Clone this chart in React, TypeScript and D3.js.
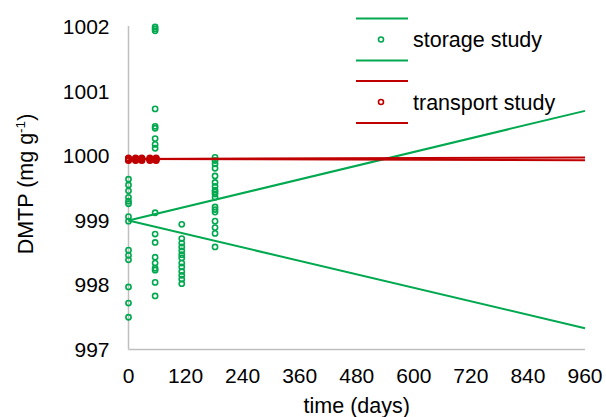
import React from "react";
import * as d3 from "d3";

const storageDays = [0, 56, 112, 182];
const storageDay0 = [999.64, 999.55, 999.46, 999.36, 999.3, 999.26, 999.06, 998.99, 998.54, 998.46, 998.39, 997.97, 997.72, 997.5];
const storageDay56 = [1002.0, 1001.97, 1001.94, 1000.73, 1000.46, 1000.43, 1000.27, 1000.18, 1000.12, 999.12, 998.79, 998.66, 998.43, 998.34, 998.26, 998.23, 998.04, 997.83];
const storageDay112 = [998.94, 998.72, 998.65, 998.59, 998.53, 998.47, 998.42, 998.34, 998.28, 998.21, 998.15, 998.09, 998.02];
const storageDay182 = [999.98, 999.93, 999.88, 999.81, 999.69, 999.59, 999.53, 999.47, 999.44, 999.41, 999.36, 999.21, 999.17, 999.13, 998.99, 998.89, 998.8, 998.59];
const storageValues = [storageDay0, storageDay56, storageDay112, storageDay182];

const transportDays = [0, 15, 28, 45, 58];
const transportValues = [999.93, 999.94, 999.95, 999.96, 999.97];

// bound lines: [value at day 0, value at day 960]
const storageUpper = [999.0, 1000.7];
const storageLower = [999.0, 997.33];
const transportUpper = [999.955, 999.975];
const transportLower = [999.955, 999.935];
const lineDays = [0, 960];

const xTicks = [0, 120, 240, 360, 480, 600, 720, 840, 960];
const yTicks = [997, 998, 999, 1000, 1001, 1002];

const GREEN = "#00a84f";
const RED = "#c00000";
const AXIS = "#bfbfbf";
const FONT = "'Liberation Sans', Arial, sans-serif";

export default function App() {
  const x = d3.scaleLinear().domain([0, 960]).range([128.5, 585]);
  const y = d3.scaleLinear().domain([997, 1002]).range([349.5, 27]);
  const line = d3
    .line<[number, number]>()
    .x((d) => x(d[0]))
    .y((d) => y(d[1]));
  const mk = (vals: number[]) => line(lineDays.map((d, i) => [d, vals[i]] as [number, number])) || "";

  return (
    <svg
      width={606}
      height={417}
      style={{ position: "absolute", left: 0, top: 0, background: "#fff" }}
      fontFamily={FONT}
    >
      {/* axes */}
      <line x1={x(0)} x2={x(0)} y1={y(1002) - 1} y2={y(997)} stroke={AXIS} strokeWidth={1.5} />
      <line x1={x(0)} x2={x(960)} y1={y(997)} y2={y(997)} stroke={AXIS} strokeWidth={1.5} />

      {yTicks.map((t) => (
        <text key={t} x={109.5} y={y(t)} dy="0.35em" textAnchor="end" fontSize={21} fill="#000">
          {t}
        </text>
      ))}
      {xTicks.map((t) => (
        <text key={t} x={x(t)} y={382.5} textAnchor="middle" fontSize={21} fill="#000">
          {t}
        </text>
      ))}

      <text x={(x(0) + x(960)) / 2} y={413} textAnchor="middle" fontSize={21.5} fill="#000">
        time (days)
      </text>
      <text transform="translate(33,184) rotate(-90)" textAnchor="middle" fontSize={21.5} fill="#000">
        DMTP (mg g<tspan dy={-8} fontSize={13.5}>-1</tspan>
        <tspan dy={8}>)</tspan>
      </text>

      {/* storage points */}
      {storageValues.map((vals, i) =>
        vals.map((v, j) => (
          <circle
            key={`s${i}-${j}`}
            cx={x(storageDays[i])}
            cy={y(v)}
            r={2.6}
            fill="none"
            stroke={GREEN}
            strokeWidth={1.6}
          />
        ))
      )}

      {/* lines */}
      <path d={mk(storageUpper)} stroke={GREEN} strokeWidth={2} fill="none" />
      <path d={mk(storageLower)} stroke={GREEN} strokeWidth={2} fill="none" />
      <path d={mk(transportUpper)} stroke={RED} strokeWidth={2} fill="none" />
      <path d={mk(transportLower)} stroke={RED} strokeWidth={2} fill="none" />

      {/* transport points */}
      {transportDays.map((d, i) =>
        transportValues.map((v, j) => (
          <circle
            key={`t${i}-${j}`}
            cx={x(d)}
            cy={y(v)}
            r={2.7}
            fill="none"
            stroke={RED}
            strokeWidth={1.7}
          />
        ))
      )}

      {/* legend */}
      <line x1={356} x2={408} y1={18.5} y2={18.5} stroke={GREEN} strokeWidth={2} />
      <circle cx={381} cy={39.5} r={2.5} fill="none" stroke={GREEN} strokeWidth={1.6} />
      <line x1={356} x2={408} y1={60.5} y2={60.5} stroke={GREEN} strokeWidth={2} />
      <text x={413} y={39.5} dy="0.35em" fontSize={21.5} fill="#000">
        storage study
      </text>
      <line x1={356} x2={408} y1={81} y2={81} stroke={RED} strokeWidth={2} />
      <circle cx={381} cy={102} r={2.5} fill="none" stroke={RED} strokeWidth={1.6} />
      <line x1={356} x2={408} y1={123} y2={123} stroke={RED} strokeWidth={2} />
      <text x={413} y={102} dy="0.35em" fontSize={21.5} fill="#000">
        transport study
      </text>
    </svg>
  );
}
